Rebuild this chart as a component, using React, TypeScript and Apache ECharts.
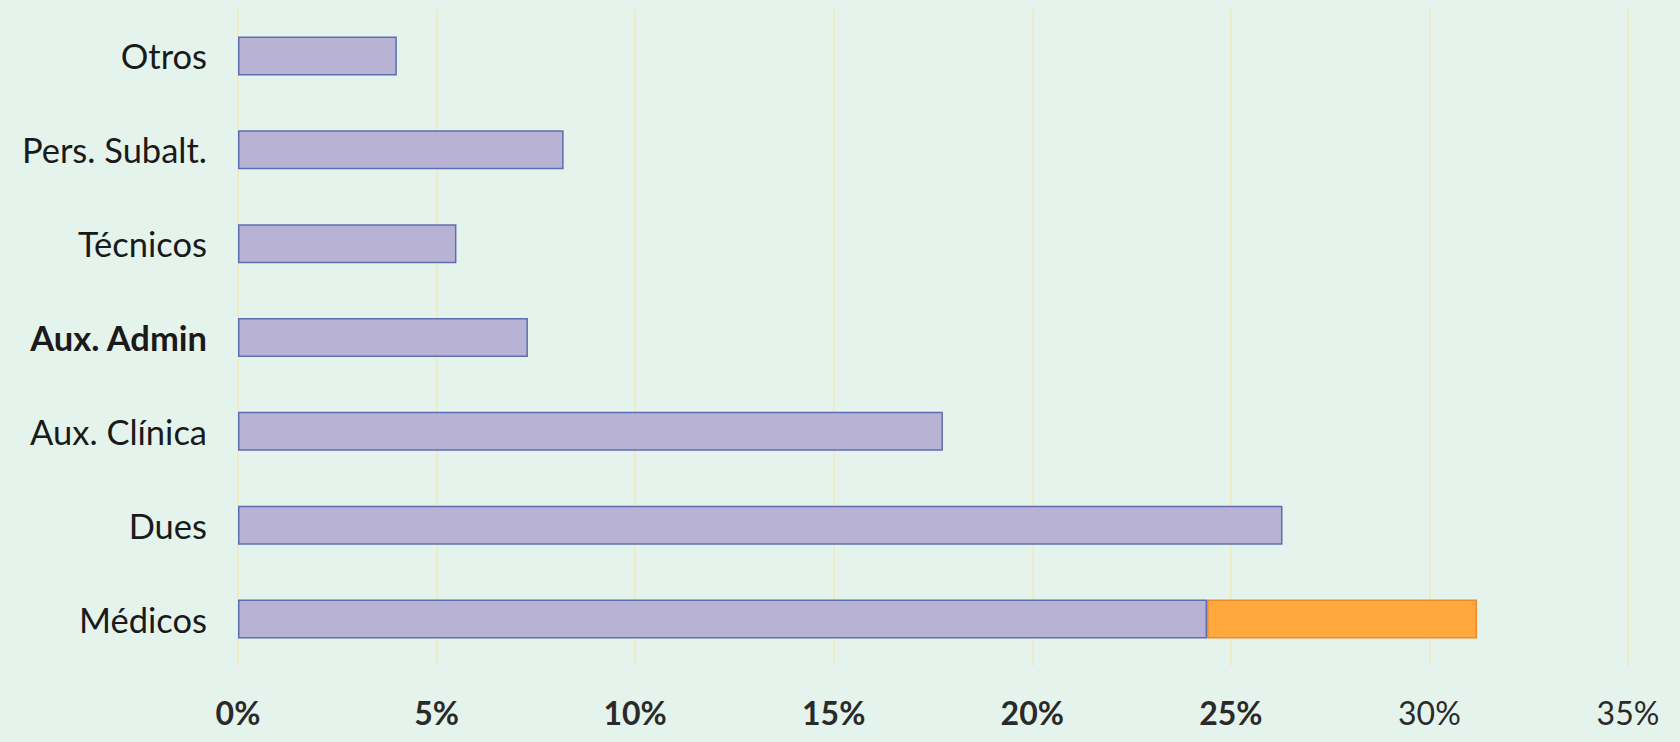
import React, { useEffect, useRef } from "react";
import * as echarts from "echarts";

const categories = ["Médicos", "Dues", "Aux. Clínica", "Aux. Admin", "Técnicos", "Pers. Subalt.", "Otros"];
const baseValues = [24.4, 26.3, 17.75, 7.3, 5.5, 8.2, 4.0];
const extraValues = [6.8, null, null, null, null, null, null];
const boldCategories = ["Aux. Admin"];
const tickMax = 35;
const tickInterval = 5;

export default function App() {
  const ref = useRef<HTMLDivElement>(null);
  useEffect(() => {
    if (!ref.current) return;
    const chart = echarts.init(ref.current, null, { renderer: "svg" });
    const font = "Lato";
    chart.setOption({
      animation: false,
      backgroundColor: "#E4F4EC",
      grid: { left: 238, right: 52, top: 9, bottom: 76, containLabel: false },
      xAxis: {
        type: "value",
        min: 0,
        max: tickMax,
        interval: tickInterval,
        axisLine: { show: false },
        axisTick: { show: false },
        splitLine: { show: true, lineStyle: { color: "#EEEBC6", width: 2 } },
        axisLabel: {
          margin: 30,
          formatter: (v: number) => (v >= 30 ? `{r|${v}%}` : `{b|${v}%}`),
          rich: {
            b: { fontFamily: font, fontSize: 32, fontWeight: "bold", color: "#2a2a2a" },
            r: { fontFamily: font, fontSize: 32, fontWeight: "normal", color: "#2a2a2a" },
          },
        },
      },
      yAxis: {
        type: "category",
        data: categories,
        axisLine: { show: false },
        axisTick: { show: false },
        splitLine: { show: false },
        axisLabel: {
          margin: 31,
          formatter: (v: string) => (boldCategories.includes(v) ? `{b|${v}}` : `{r|${v}}`),
          rich: {
            b: { fontFamily: font, fontSize: 34.5, fontWeight: "bold", color: "#1a1a1a" },
            r: { fontFamily: font, fontSize: 34.5, fontWeight: "normal", color: "#1a1a1a" },
          },
        },
      },
      series: [
        {
          type: "bar",
          stack: "total",
          data: baseValues,
          barWidth: 39,
          itemStyle: { color: "#B8B3D4", borderColor: "#5D6EB0", borderWidth: 1.5 },
        },
        {
          type: "bar",
          stack: "total",
          data: extraValues,
          barWidth: 39,
          itemStyle: { color: "#FFA83E", borderColor: "#EC8A2C", borderWidth: 1.5 },
        },
      ],
    });
    return () => chart.dispose();
  }, []);
  return (
    <div
      ref={ref}
      style={{ position: "fixed", left: 0, top: 0, width: 1680, height: 742 }}
    />
  );
}
